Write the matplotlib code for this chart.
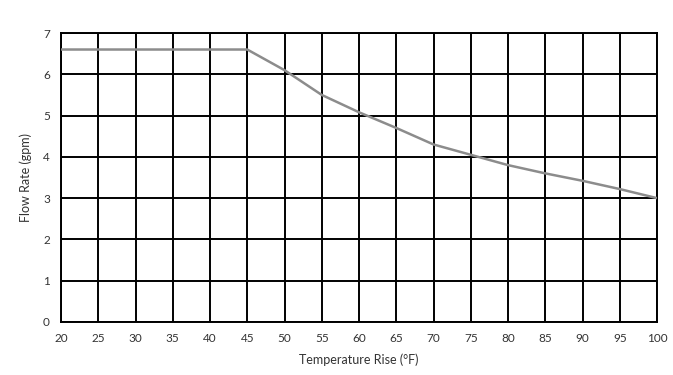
import matplotlib
matplotlib.use("Agg")
import matplotlib.pyplot as plt

temp_rise = [20, 45, 50, 55, 60, 65, 70, 75, 80, 85, 90, 95, 100]
flow_rate = [6.6, 6.6, 6.1, 5.5, 5.08, 4.7, 4.3, 4.05, 3.8, 3.6, 3.42, 3.22, 3.0]
x_ticks = list(range(20, 101, 5))
y_ticks = list(range(0, 8))

plt.rcParams['font.family'] = ['Lato', 'DejaVu Sans']

fig = plt.figure(figsize=(6.73, 3.75), dpi=100)
ax = fig.add_axes([61/673, 1 - 322/375, (657-61)/673, (322-33)/375])

ax.plot(temp_rise, flow_rate, color='#8c8c8c', lw=1.8, zorder=3, solid_capstyle='butt')
ax.set_xlim(20, 100)
ax.set_ylim(0, 7)
ax.set_xticks(x_ticks)
ax.set_yticks(y_ticks)
ax.grid(True, color='black', lw=1.4)
ax.set_axisbelow(True)
for s in ax.spines.values():
    s.set_color('black')
    s.set_linewidth(1.4)
ax.tick_params(length=0, labelsize=8.5, colors='#333333', pad=8)
ax.set_xlabel('Temperature Rise (°F)', fontsize=9, color='#333333', labelpad=7)
ax.set_ylabel('Flow Rate (gpm)', fontsize=9, color='#333333', labelpad=8)

fig.savefig('out.png', dpi=100)
